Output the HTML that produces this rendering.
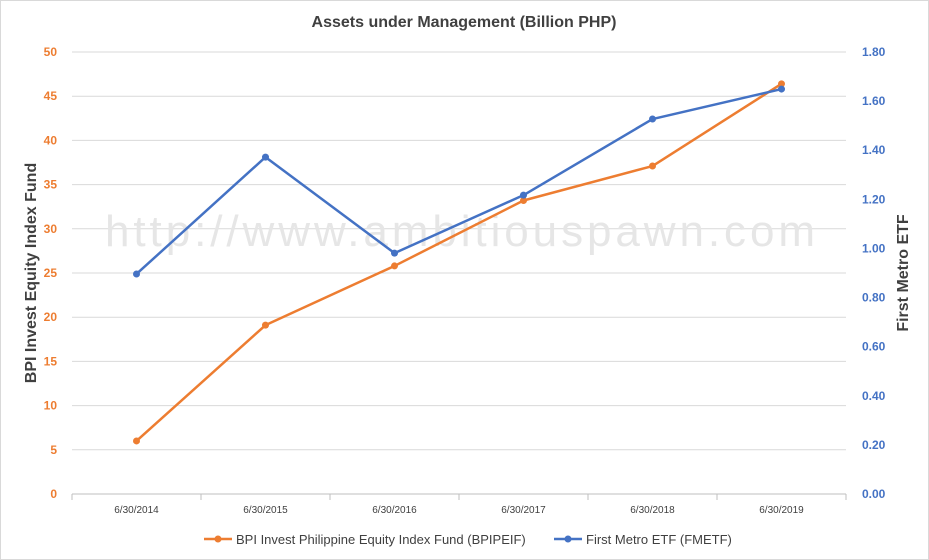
<!DOCTYPE html>
<html><head><meta charset="utf-8">
<style>
body{margin:0;background:#fff;}
svg{display:block;font-family:"Liberation Sans",Calibri,sans-serif;}
</style></head>
<body>
<svg id="chart" width="929" height="560" viewBox="0 0 929 560">
  <rect x="0.5" y="0.5" width="928" height="559" fill="#fff" stroke="#d9d9d9"/>
  <text x="464" y="27" text-anchor="middle" font-size="16" font-weight="bold" fill="#404040">Assets under Management (Billion PHP)</text>
  <g id="grid"></g>
  <text x="105" y="246" textLength="710" lengthAdjust="spacing" font-size="44" fill="#e6e6e6">http://www.ambitiouspawn.com</text>
  <g id="axes"></g>
  <g id="series"></g>
  <text transform="translate(36,273) rotate(-90)" text-anchor="middle" font-size="16" font-weight="bold" fill="#404040">BPI Invest Equity Index Fund</text>
  <text transform="translate(908,273) rotate(-90)" text-anchor="middle" font-size="16" font-weight="bold" fill="#404040">First Metro ETF</text>
  <g>
    <g>
      <line x1="204" y1="539" x2="232" y2="539" stroke="#ed7d31" stroke-width="2.5"/>
      <circle cx="218" cy="539" r="3.5" fill="#ed7d31"/>
      <text x="236" y="544" font-size="13" fill="#404040">BPI Invest Philippine Equity Index Fund (BPIPEIF)</text>
    </g>
    <g>
      <line x1="554" y1="539" x2="582" y2="539" stroke="#4472c4" stroke-width="2.5"/>
      <circle cx="568" cy="539" r="3.5" fill="#4472c4"/>
      <text x="586" y="544" font-size="13" fill="#404040">First Metro ETF (FMETF)</text>
    </g>
  </g>
</svg>
<script>
const categories=["6/30/2014","6/30/2015","6/30/2016","6/30/2017","6/30/2018","6/30/2019"];
const bpiValues=[6.0,19.1,25.8,33.2,37.1,46.4];
const fmetfValues=[0.896,1.372,0.981,1.217,1.527,1.649];
const leftTicks=[0,5,10,15,20,25,30,35,40,45,50];
const rightTicks=[0,0.2,0.4,0.6,0.8,1.0,1.2,1.4,1.6,1.8];

const NS="http://www.w3.org/2000/svg";
const X0=72,X1=846,Y0=494,Y1=52;
const bw=(X1-X0)/categories.length;
const xPos=i=>X0+bw*(i+0.5);
const yL=v=>Y0-(v/50)*(Y0-Y1);
const yR=v=>Y0-(v/1.8)*(Y0-Y1);
function mk(tag,attrs,parent){const e=document.createElementNS(NS,tag);for(const k in attrs)e.setAttribute(k,attrs[k]);parent.appendChild(e);return e;}
const grid=document.getElementById('grid'),axes=document.getElementById('axes'),series=document.getElementById('series');

leftTicks.forEach(t=>{
  const y=yL(t);
  if(t>0){const g=mk('line',{x1:X0,x2:X1,y1:y,y2:y,stroke:'#d9d9d9','stroke-width':1},grid);
  
  }
  const tx=mk('text',{x:57,y:y+4,'text-anchor':'end','font-size':12,fill:'#ed7d31','font-weight':'600'},axes);
  tx.textContent=t;
  
  
});
rightTicks.forEach(t=>{
  const tx=mk('text',{x:862,y:yR(t)+4,'font-size':12,fill:'#4472c4','font-weight':'bold'},axes);
  tx.textContent=t.toFixed(2);
  
  
});
const base=mk('line',{x1:X0,x2:X1,y1:Y0,y2:Y0,stroke:'#bfbfbf'},axes);


for(let i=0;i<=categories.length;i++){
  const tk=mk('line',{x1:X0+bw*i,x2:X0+bw*i,y1:Y0,y2:Y0+6,stroke:'#bfbfbf'},axes);
  
  
}
categories.forEach((c,i)=>{
  const tx=mk('text',{x:xPos(i),y:513,'text-anchor':'middle','font-size':10,fill:'#404040'},axes);
  tx.textContent=c;
  
  
});
function drawSeries(vals,yf,color,name){
  const pts=vals.map((v,i)=>xPos(i)+','+yf(v)).join(' ');
  const pl=mk('polyline',{points:pts,fill:'none',stroke:color,'stroke-width':2.5,'stroke-linejoin':'round'},series);
  
  
  vals.forEach((v,i)=>{
    const c=mk('circle',{cx:xPos(i),cy:yf(v),r:3.5,fill:color},series);
    
    
  });
}
drawSeries(bpiValues,yL,'#ed7d31','bpipeif');
drawSeries(fmetfValues,yR,'#4472c4','fmetf');
</script>
</body></html>
